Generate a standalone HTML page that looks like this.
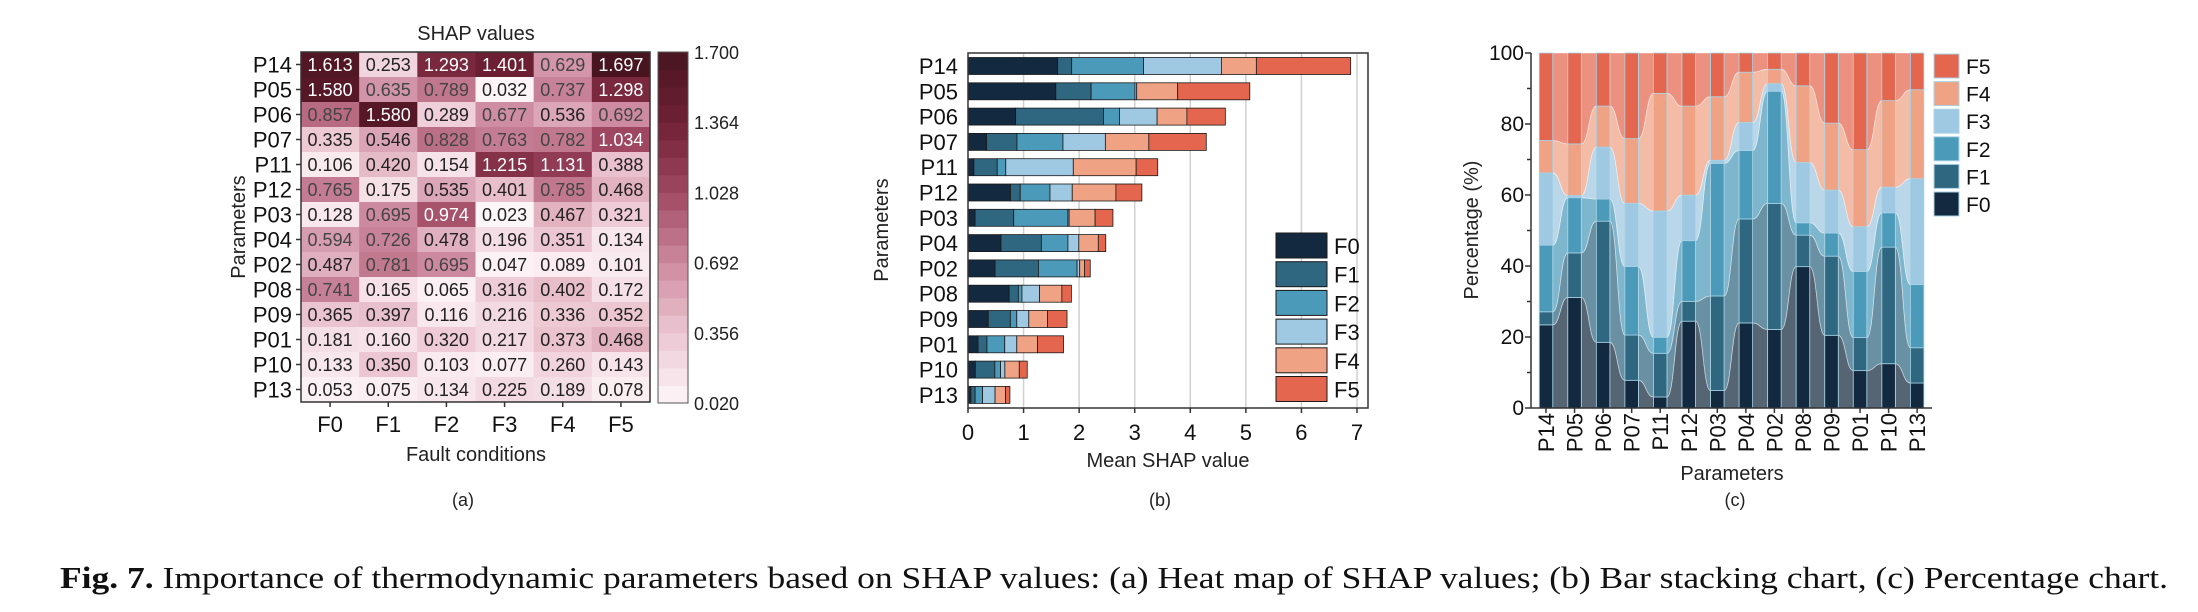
<!DOCTYPE html>
<html><head><meta charset="utf-8"><style>
html,body{margin:0;padding:0;background:#fff;}
svg{display:block;font-family:"Liberation Sans",Arial,sans-serif;}
</style></head><body>
<svg id="fig" width="2198" height="612" viewBox="0 0 2198 612" xmlns="http://www.w3.org/2000/svg">
<text x="60" y="588" textLength="2108" lengthAdjust="spacingAndGlyphs" font-family="Liberation Serif, serif" font-size="31" fill="#111"><tspan font-weight="bold">Fig. 7.</tspan> Importance of thermodynamic parameters based on SHAP values: (a) Heat map of SHAP values; (b) Bar stacking chart, (c) Percentage chart.</text>
</svg>
<script>
const params = ["P14","P05","P06","P07","P11","P12","P03","P04","P02","P08","P09","P01","P10","P13"];
const faults = ["F0","F1","F2","F3","F4","F5"];
const shapF0 = [1.613,1.580,0.857,0.335,0.106,0.765,0.128,0.594,0.487,0.741,0.365,0.181,0.133,0.053];
const shapF1 = [0.253,0.635,1.580,0.546,0.420,0.175,0.695,0.726,0.781,0.165,0.397,0.160,0.350,0.075];
const shapF2 = [1.293,0.789,0.289,0.828,0.154,0.535,0.974,0.478,0.695,0.065,0.116,0.320,0.103,0.134];
const shapF3 = [1.401,0.032,0.677,0.763,1.215,0.401,0.023,0.196,0.047,0.316,0.216,0.217,0.077,0.225];
const shapF4 = [0.629,0.737,0.536,0.782,1.131,0.785,0.467,0.351,0.089,0.402,0.336,0.373,0.260,0.189];
const shapF5 = [1.697,1.298,0.692,1.034,0.388,0.468,0.321,0.134,0.101,0.172,0.352,0.468,0.143,0.078];
const colorbarTicks = [0.020,0.356,0.692,1.028,1.364,1.700];
const barTicks = [0,1,2,3,4,5,6,7];
const pctTicks = [0,20,40,60,80,100];

const series = [shapF0,shapF1,shapF2,shapF3,shapF4,shapF5];
const fcol = ["#13293f","#2f6680","#4c9aba","#9fc8e2","#f0a285","#e4664e"];
const NS = "http://www.w3.org/2000/svg";
const svg = document.getElementById("fig");
function mk(tag, attrs, parent, txt){
  const e=document.createElementNS(NS,tag);
  for(const k in attrs) e.setAttribute(k,attrs[k]);
  if(txt!==undefined) e.textContent=txt;
  (parent||svg).appendChild(e); return e;
}
function grp(name){const g=mk("g",{});


return g;}

/* ---------- (a) heatmap ---------- */
const hm = grp("heatmap-panel");
const hx0=301,hx1=650,hy0=52,hy1=402;
const cw=(hx1-hx0)/6, ch=(hy1-hy0)/14;
const vmin=0.020,vmax=1.700;
const stops=[[253,246,248],[236,198,210],[205,138,160],[160,72,98],[112,32,52],[72,20,32]];
function heatColor(v){
  let t=Math.max(0,Math.min(1,(v-vmin)/(vmax-vmin)))*(stops.length-1);
  const i=Math.min(stops.length-2,Math.floor(t)), f=t-i;
  const c=stops[i].map((a,k)=>Math.round(a+(stops[i+1][k]-a)*f));
  return `rgb(${c[0]},${c[1]},${c[2]})`;
}
const hmX=i=>hx0+i*cw, hmY=j=>hy0+j*ch;
params.forEach((p,j)=>{
  series.forEach((s,i)=>{
    const v=s[j];
    const r=mk("rect",{x:hmX(i),y:hmY(j),width:cw+0.5,height:ch+0.5,fill:heatColor(v)},hm);
    
    
    const t=mk("text",{x:hmX(i)+cw/2,y:hmY(j)+ch/2+6.5,"text-anchor":"middle","font-size":18,fill:v>0.9?"#fff":(v>0.55?"#444":"#222")},hm,v.toFixed(3));
    
    
  });
  const lab=mk("text",{x:292,y:hmY(j)+ch/2+8,"text-anchor":"end","font-size":22,fill:"#111"},hm,p);
  
  
  mk("line",{x1:296,x2:301,y1:hmY(j)+ch/2,y2:hmY(j)+ch/2,stroke:"#333","stroke-width":1.5},hm);
});
mk("rect",{x:hx0,y:hy0,width:hx1-hx0,height:hy1-hy0,fill:"none",stroke:"#333","stroke-width":1.5},hm);
faults.forEach((f,i)=>{
  mk("line",{x1:hmX(i)+cw/2,x2:hmX(i)+cw/2,y1:hy1,y2:hy1+5,stroke:"#333","stroke-width":1.5},hm);
  const t=mk("text",{x:hmX(i)+cw/2,y:432,"text-anchor":"middle","font-size":22,fill:"#111"},hm,f);
  
  
});
let tt=mk("text",{x:476,y:40,"text-anchor":"middle","font-size":20,fill:"#222"},hm,"SHAP values");


tt=mk("text",{x:476,y:461,"text-anchor":"middle","font-size":20,fill:"#222"},hm,"Fault conditions");


tt=mk("text",{x:0,y:0,"text-anchor":"middle","font-size":20,fill:"#222",transform:"translate(245,227) rotate(-90)"},hm,"Parameters");


tt=mk("text",{x:463,y:506,"text-anchor":"middle","font-size":18,fill:"#222"},hm,"(a)");


/* colorbar */
const cbx=658,cbw=30,cby0=52,cby1=403,nsteps=20;
const cbY=v=>cby1-(v-vmin)/(vmax-vmin)*(cby1-cby0);
for(let k=0;k<nsteps;k++){
  const v=vmin+(k+0.5)*(vmax-vmin)/nsteps;
  const y0=cbY(vmin+(k+1)*(vmax-vmin)/nsteps);
  const r=mk("rect",{x:cbx,y:y0,width:cbw,height:(cby1-cby0)/nsteps+0.5,fill:heatColor(v)},hm);
  
  
}
mk("rect",{x:cbx,y:cby0,width:cbw,height:cby1-cby0,fill:"none",stroke:"#555","stroke-width":1},hm);
colorbarTicks.forEach(v=>{
  const t=mk("text",{x:694,y:cbY(v)+7,"font-size":18,fill:"#222"},hm,v.toFixed(3));
  
  
});

/* ---------- (b) stacked bar ---------- */
const bp = grp("stacked-bar-panel");
const bx0=968,bxUnit=(1357-968)/7,by0=53,by1=408;
const bX=v=>bx0+v*bxUnit;
const bRow=j=>66+j*25.3;
barTicks.forEach(v=>{
  if(v>0) mk("line",{x1:bX(v),x2:bX(v),y1:by0,y2:by1,stroke:"#d0d0d0","stroke-width":1.5},bp);
  mk("line",{x1:bX(v),x2:bX(v),y1:by1,y2:by1+5,stroke:"#333","stroke-width":1.5},bp);
  const t=mk("text",{x:bX(v),y:440,"text-anchor":"middle","font-size":22,fill:"#111"},bp,String(v));
  
  
});
params.forEach((p,j)=>{
  let acc=0;
  series.forEach((s,i)=>{
    const r=mk("rect",{x:bX(acc),y:bRow(j)-8.5,width:bX(acc+s[j])-bX(acc),height:17,fill:fcol[i],stroke:"#1a1a1a","stroke-width":0.8},bp);
    
    
    acc+=s[j];
  });
  const t=mk("text",{x:958,y:bRow(j)+8,"text-anchor":"end","font-size":22,fill:"#111"},bp,p);
  
  
});
mk("rect",{x:bx0,y:by0,width:1368-bx0,height:by1-by0,fill:"none",stroke:"#333","stroke-width":1.5},bp);
faults.forEach((f,i)=>{
  const y=233+i*28.7;
  const r=mk("rect",{x:1276,y:y,width:51,height:25,fill:fcol[i],stroke:"#1a1a1a","stroke-width":1},bp);
  
  
  const t=mk("text",{x:1334,y:y+21,"font-size":22,fill:"#111"},bp,f);
  
  
});
tt=mk("text",{x:1168,y:467,"text-anchor":"middle","font-size":20,fill:"#222"},bp,"Mean SHAP value");


tt=mk("text",{x:0,y:0,"text-anchor":"middle","font-size":20,fill:"#222",transform:"translate(888,230) rotate(-90)"},bp,"Parameters");


tt=mk("text",{x:1160,y:506,"text-anchor":"middle","font-size":18,fill:"#222"},bp,"(b)");



/* ---------- (c) percentage chart ---------- */
const pp = grp("percentage-panel");
const px0=1531,px1=1932,py0=53,py1=408;
const pY=v=>py1-v/100*(py1-py0);
const pXc=j=>1546+j*28.55, bw=13.5;
const cum=params.map((p,j)=>{
  const tot=series.reduce((a,s)=>a+s[j],0);
  const c=[0]; let a=0;
  series.forEach(s=>{a+=s[j]/tot*100;c.push(a);});
  return c;
});
for(let j=0;j<params.length-1;j++){
  const xa=pXc(j)+bw/2, xb=pXc(j+1)-bw/2, xm=(xa+xb)/2;
  series.forEach((s,i)=>{
    const a0=pY(cum[j][i]),a1=pY(cum[j][i+1]),b0=pY(cum[j+1][i]),b1=pY(cum[j+1][i+1]);
    const d=`M${xa},${a1} C${xm},${a1} ${xm},${b1} ${xb},${b1} L${xb},${b0} C${xm},${b0} ${xm},${a0} ${xa},${a0} Z`;
    const pa=mk("path",{d:d,fill:fcol[i],"fill-opacity":0.72,stroke:"#fff","stroke-opacity":0.5,"stroke-width":0.8},pp);
    
    
  });
}
params.forEach((p,j)=>{
  series.forEach((s,i)=>{
    const r=mk("rect",{x:pXc(j)-bw/2,y:pY(cum[j][i+1]),width:bw,height:pY(cum[j][i])-pY(cum[j][i+1]),fill:fcol[i],stroke:"#a8d4e6","stroke-width":0.8},pp);
    
    
  });
  mk("line",{x1:pXc(j),x2:pXc(j),y1:py1,y2:py1+5,stroke:"#333","stroke-width":1.5},pp);
  const t=mk("text",{x:0,y:0,"text-anchor":"end","font-size":22,fill:"#111",transform:`translate(${pXc(j)+8},413) rotate(-90)`},pp,p);
  
  
});
mk("line",{x1:px0,x2:px0,y1:py0,y2:py1,stroke:"#333","stroke-width":1.5},pp);
mk("line",{x1:px0,x2:px1,y1:py1,y2:py1,stroke:"#333","stroke-width":1.5},pp);
for(let v=0;v<=100;v+=10){
  mk("line",{x1:px0-(v%20===0?6:4),x2:px0,y1:pY(v),y2:pY(v),stroke:"#333","stroke-width":1.5},pp);
}
pctTicks.forEach(v=>{
  const t=mk("text",{x:1524,y:pY(v)+7,"text-anchor":"end","font-size":21,fill:"#111"},pp,String(v));
  
  
});
for(let k=0;k<6;k++){
  const i=5-k, y=54+k*27.6;
  const r=mk("rect",{x:1934,y:y,width:25,height:24,fill:fcol[i],stroke:"#a8d4e6","stroke-width":1},pp);
  
  
  const t=mk("text",{x:1966,y:y+20,"font-size":21,fill:"#111"},pp,faults[i]);
  
  
}
tt=mk("text",{x:1732,y:480,"text-anchor":"middle","font-size":20,fill:"#222"},pp,"Parameters");


tt=mk("text",{x:0,y:0,"text-anchor":"middle","font-size":20,fill:"#222",transform:"translate(1478,230) rotate(-90)"},pp,"Percentage (%)");


tt=mk("text",{x:1735,y:506,"text-anchor":"middle","font-size":18,fill:"#222"},pp,"(c)");


</script>
</body></html>
